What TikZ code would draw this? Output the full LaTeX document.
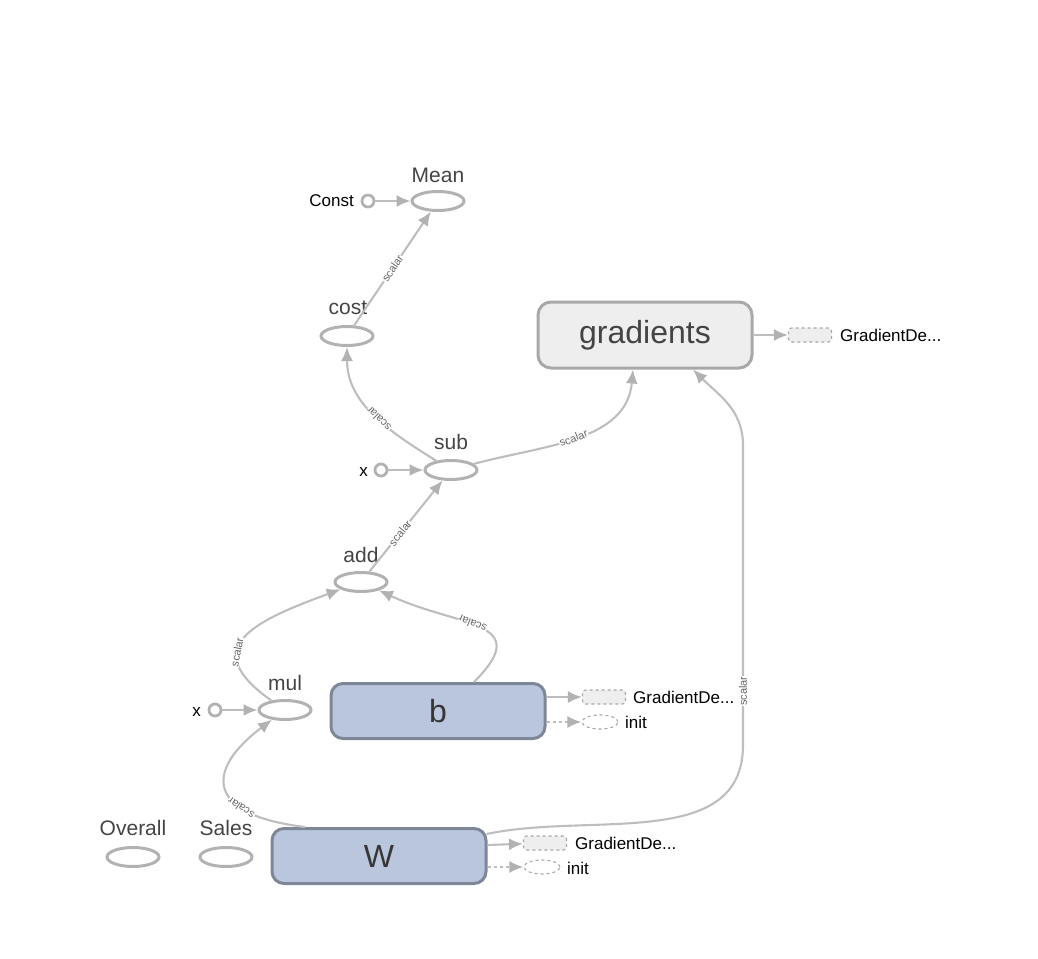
\documentclass[tikz,border=0pt]{standalone}
\usepackage{fontspec}
\setmainfont{Liberation Sans}
\usepackage{tikz}
\usetikzlibrary{shapes.geometric,arrows.meta}
\definecolor{edgegray}{RGB}{190,190,190}
\definecolor{tipgray}{RGB}{178,178,178}
\definecolor{opgray}{RGB}{178,178,178}
\definecolor{textdark}{RGB}{68,68,68}
\definecolor{boxfill}{RGB}{238,238,238}
\definecolor{boxline}{RGB}{168,168,168}
\definecolor{varfill}{RGB}{186,198,222}
\definecolor{varline}{RGB}{126,135,152}

\begin{document}
\begin{tikzpicture}[x=1pt,y=1pt,
 op/.style={ellipse,draw=opgray,line width=3pt,minimum width=52pt,minimum height=19pt,inner sep=0pt},
 cst/.style={circle,draw=opgray,line width=2.8pt,minimum size=12pt,inner sep=0pt},
 lbl/.style={anchor=base,text=textdark,inner sep=0pt,font=\fontsize{21}{24}\selectfont},
 txt/.style={text=black,inner sep=0pt,font=\fontsize{17}{20}\selectfont},
 grad/.style={rectangle,rounded corners=13pt,draw=boxline,fill=boxfill,line width=3pt,minimum width=214pt,minimum height=66pt,text=textdark,font=\fontsize{32}{36}\selectfont},
 var/.style={rectangle,rounded corners=12pt,draw=varline,fill=varfill,line width=3pt,minimum width=214pt,minimum height=55pt,text=textdark!80!black,font=\fontsize{32}{36}\selectfont},
 gd/.style={rectangle,rounded corners=3pt,draw=boxline,dashed,fill=boxfill,line width=1.1pt,minimum width=43pt,minimum height=14pt,inner sep=0pt},
 ini/.style={ellipse,draw=boxline,dashed,line width=1.1pt,minimum width=36pt,minimum height=14pt,inner sep=0pt},
 flow/.style={draw=edgegray,line width=2.1pt,-{Latex[length=14pt,width=12pt,color=tipgray]}},
 dflow/.style={flow,dash pattern=on 3pt off 3pt},
 slbl/.style={sloped,allow upside down,fill=white,inner sep=0.6pt,text=black!60,font=\fontsize{11}{12}\selectfont}]

 \useasboundingbox (0,0) rectangle (1038,-958);

 \node [op] (mean) at (438,-201) {};
 \node [lbl] (meanL) at (438,-182) {Mean};
 \node [cst] (const) at (368,-201) {};
 \node [txt,anchor=east] (constL) at (354,-201) {Const};

 \node [op] (cost) at (347,-336) {};
 \node [lbl] (costL) at (348,-314) {cost};

 \node [grad] (grad) at (645,-335) {gradients};
 \node [gd] (gdG) at (810,-335) {};
 \node [txt,anchor=west] (gdGL) at (840,-335) {GradientDe...};

 \node [op] (sub) at (451,-470) {};
 \node [lbl] (subL) at (451,-449) {sub};
 \node [cst] (x1) at (381,-470) {};
 \node [txt,anchor=east] (x1L) at (368,-472) {x};

 \node [op] (add) at (361,-582) {};
 \node [lbl] (addL) at (361,-562) {add};

 \node [op] (mul) at (285,-710) {};
 \node [lbl] (mulL) at (285,-690) {mul};
 \node [cst] (x2) at (215,-710) {};
 \node [txt,anchor=east] (x2L) at (201,-712) {x};

 \node [var] (b) at (438,-711) {b};
 \node [gd] (gdB) at (604,-697) {};
 \node [txt,anchor=west] (gdBL) at (633,-697) {GradientDe...};
 \node [ini] (initB) at (600,-722) {};
 \node [txt,anchor=west] (initBL) at (625,-722) {init};

 \node [var] (W) at (379,-856) {W};
 \node [gd] (gdW) at (545,-843) {};
 \node [txt,anchor=west] (gdWL) at (575,-843) {GradientDe...};
 \node [ini] (initW) at (542,-867) {};
 \node [txt,anchor=west] (initWL) at (567,-868) {init};

 \node [op] (overall) at (133,-857) {};
 \node [lbl] (overallL) at (133,-835) {Overall};
 \node [op] (sales) at (226,-857) {};
 \node [lbl] (salesL) at (226,-835) {Sales};

 \coordinate (k1) at (743,-745);
 \coordinate (k2) at (743,-445);

 \draw[flow] (const) -- (mean);
 \draw[flow] (cost) -- node[slbl,pos=0.5] {scalar} (mean);
 \draw[flow] (sub) to[out=148,in=-90] node[slbl,pos=0.45] {scalar} (cost);
 \draw[flow] (sub) to[out=15,in=-95] node[slbl,pos=0.48] {scalar} ([xshift=-12pt]grad.south);
 \draw[flow] (x1) -- (sub);
 \draw[flow] (add) -- node[slbl,pos=0.42] {scalar} (sub);
 \draw[flow] (mul) to[out=145,in=200,looseness=1.8] node[slbl,pos=0.36] {scalar} (add);
 \draw[flow] ([xshift=36pt]b.north) to[out=45,in=-25,looseness=1.7] node[slbl,pos=0.55] {scalar} (add);
 \draw[flow] (x2) -- (mul);
 \draw[flow] ([xshift=-74pt]W.north) .. controls (205,-815) and (205,-770) .. node[slbl,pos=0.3] {scalar} (mul);
 \draw[flow] ([xshift=-1pt,yshift=22pt]W.east) to[out=12,in=-90] (k1) -- node[slbl,pos=0.18] {scalar} (k2) to[out=90,in=-45] ([xshift=48pt]grad.south);
 \draw[flow] (grad) -- (gdG);
 \draw[flow] ([yshift=14pt]b.east) -- (gdB);
 \draw[dflow] ([yshift=-11pt]b.east) -- (initB);
 \draw[flow] ([yshift=11pt]W.east) -- (gdW);
 \draw[dflow] ([yshift=-11pt]W.east) -- (initW);

\end{tikzpicture}
\end{document}
